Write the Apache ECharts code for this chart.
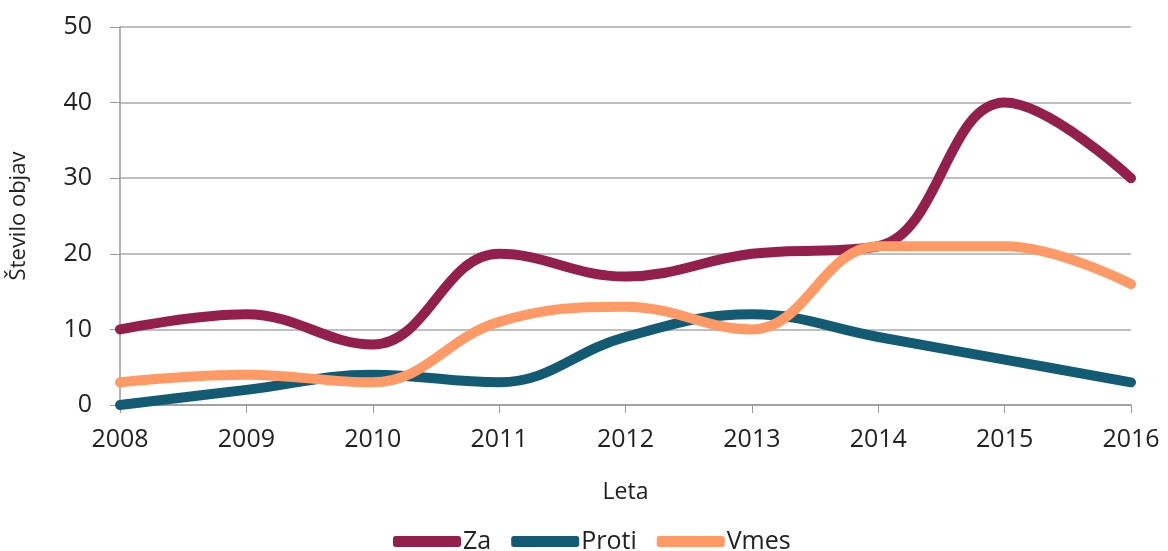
<!DOCTYPE html>
<html><head><meta charset="utf-8">
<script src="https://cdn.jsdelivr.net/npm/echarts@6/dist/echarts.min.js"></script>
<style>html,body{margin:0;padding:0;background:#fff}#c{width:1168px;height:551px}</style>
</head><body><div id="c"></div>
<script>
const years = ['2008','2009','2010','2011','2012','2013','2014','2015','2016'];
const za = [10, 12, 8, 20, 17, 20, 21, 40, 30];
const proti = [0, 2, 4, 3, 9, 12, 9, 6, 3];
const vmes = [3, 4, 3, 11, 13, 10, 21, 21, 16];
const yTicks = [0, 10, 20, 30, 40, 50];

const font = 'Open Sans, Noto Sans, sans-serif';
const chart = echarts.init(document.getElementById('c'));
const mk = (name, data, color) => ({
  name, type: 'line', data, smooth: 0.4, symbol: 'none',
  lineStyle: { width: 10, color, cap: 'round' }, itemStyle: { color }
});
chart.setOption({
  animation: false,
  grid: { left: 119, right: 37, top: 27, bottom: 146 },
  legend: {
    top: 524, left: 388, icon: 'roundRect', itemWidth: 68, itemHeight: 11, itemGap: 20,
    textStyle: { fontSize: 25, color: '#222', fontFamily: font, padding: [0, 0, 0, -3] },
    data: ['Za', 'Proti', 'Vmes']
  },
  xAxis: {
    type: 'category', data: years, boundaryGap: false,
    name: 'Leta', nameLocation: 'middle', nameGap: 76,
    nameTextStyle: { fontSize: 23, color: '#222', fontFamily: font },
    axisLine: { lineStyle: { color: '#999', width: 1.5 } },
    axisTick: { show: true, length: 8, lineStyle: { color: '#999' } },
    axisLabel: { fontSize: 25, color: '#222', fontFamily: font, margin: 22 },
    splitLine: { show: false }
  },
  yAxis: {
    type: 'value', min: 0, max: 50, interval: 10,
    name: 'Število objav', nameLocation: 'middle', nameGap: 90, nameRotate: 90,
    nameTextStyle: { fontSize: 22, color: '#222', fontFamily: font },
    axisLine: { show: true, lineStyle: { color: '#999', width: 1.5 } },
    axisTick: { show: true, length: 10, inside: false, lineStyle: { color: '#999' } },
    axisLabel: { fontSize: 25, color: '#222', fontFamily: font, margin: 28,
      formatter: v => yTicks.includes(v) ? String(v) : '' },
    splitLine: { lineStyle: { color: '#aaa', width: 1.5 } }
  },
  series: [mk('Za', za, '#931F4C'), mk('Proti', proti, '#135B73'), mk('Vmes', vmes, '#FF9966')]
});
</script></body></html>
